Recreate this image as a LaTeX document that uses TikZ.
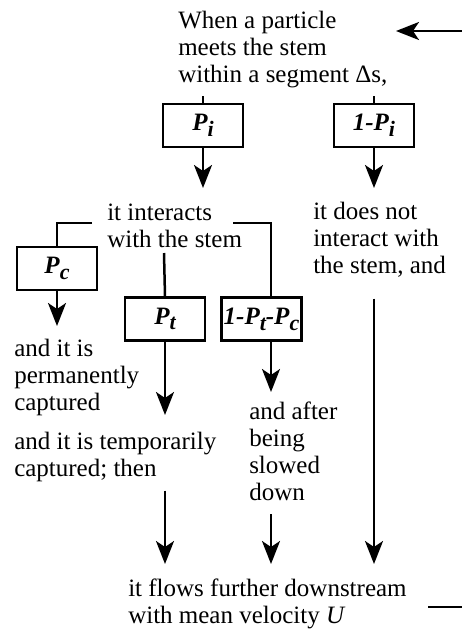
\documentclass[tikz,border=0pt]{standalone}
\usepackage{fontspec}
\setmainfont{Liberation Serif}
\usetikzlibrary{positioning, arrows.meta}

\newcommand{\lowsub}[1]{\raisebox{-0.5ex}{\fontsize{22}{22}\selectfont #1}}
\newcommand{\prb}[1]{\fontsize{25}{27}\selectfont\bfseries\itshape #1}

\begin{document}
\begin{tikzpicture}[x=1pt, y=1pt, ->, >={Stealth[length=23pt,width=18pt,inset=6pt]}, line width=2.5pt,
    every node/.style={font=\fontsize{25}{27}\selectfont, inner sep=0pt},
    txt/.style={align=left, anchor=north west},
    prob/.style={draw, rectangle, minimum width=80pt, minimum height=43pt, inner sep=2pt}]
    \useasboundingbox (0,0) rectangle (462,-630);

    \node[txt] (start) at (177,-10) {When a particle\\meets the stem\\within a segment Δs,};
    \node[prob] (pi) at (203,-125.5) {\prb{P\lowsub{i}}};
    \node[prob] (npi) at (374,-125.5) {\prb{1-P\lowsub{i}}};

    \node[txt] (int) at (106,-203) {it interacts\\with the stem};
    \node[txt] (nint) at (312,-201) {it does not\\interact with\\the stem, and};

    \node[prob] (pc) at (57,-268.5) {\prb{P\lowsub{c}}};
    \node[prob] (pt) at (165,-319) {\prb{P\lowsub{t}}};
    \node[prob] (pr) at (261.5,-319) {\prb{1-P\lowsub{t}-P\lowsub{c}}};

    \node[txt] (cap) at (13,-338) {and it is\\permanently\\captured};
    \node[txt] (slow) at (248,-401) {and after\\being\\slowed\\down};
    \node[txt] (temp) at (13,-431) {and it is temporarily\\captured; then};
    \node[txt] (out) at (127,-578) {it flows further downstream\\with mean velocity \textit{U}};

    \coordinate (inflow) at (462,-31);
    \coordinate (inhead) at (396,-31);
    \coordinate (outflow) at (428,-607);
    \coordinate (outend) at (462,-607);
    \coordinate (lj) at (92,-223);
    \coordinate (rj) at (233,-223);
    \coordinate (mj) at (164,-253);
    \coordinate (prtop) at ([xshift=9.5]pr.north);
    \coordinate (prbot) at ([xshift=9.5]pr.south);

    % particle comes in, leaves downstream
    \draw (inflow) -- (inhead);
    \draw[-] (outflow) -- (outend);

    % first split
    \draw[-] ([yshift=-7]start.south -| pi.north) -- (pi.north);
    \draw[-] ([yshift=-7]start.south -| npi.north) -- (npi.north);
    \path (pi.south) edge ([yshift=15]int.north -| pi.south)
          (npi.south) edge ([yshift=13]nint.north -| npi.south);

    % it interacts
    \draw[-] (lj) -| (pc.north);
    \draw[-] (rj) -| (prtop);
    \draw[-] (mj) -- (pt.north);
    \path (pc.south) edge ([yshift=12]cap.north -| pc.south)
          (pt.south) edge ([yshift=16]temp.north -| pt.south)
          (prbot) edge ([yshift=9]slow.north -| prbot);

    % on to the outflow
    \path ([yshift=-7.5]temp.south -| pt.south) edge ([yshift=14]out.north -| pt.south)
          ([yshift=-12]slow.south -| prbot) edge ([yshift=14]out.north -| prbot)
          ([yshift=-20]nint.south -| npi.south) edge ([yshift=14]out.north -| npi.south);
\end{tikzpicture}
\end{document}
